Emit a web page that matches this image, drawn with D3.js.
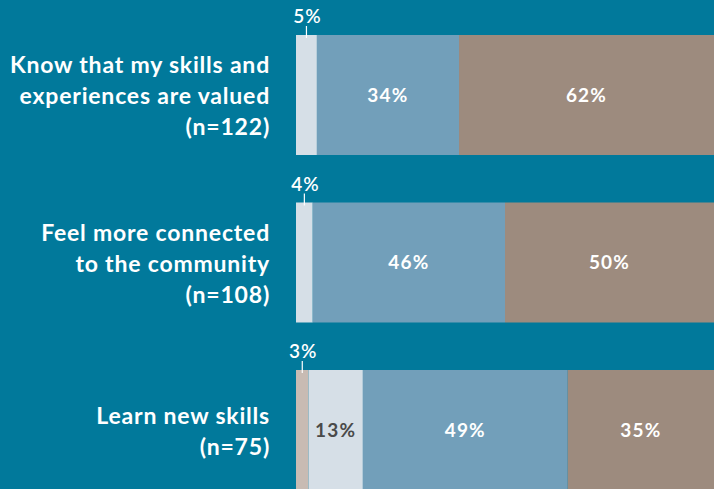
<!DOCTYPE html>
<html>
<head>
<meta charset="utf-8">
<script src="https://cdn.jsdelivr.net/npm/d3@7"></script>
<style>
  html, body { margin: 0; padding: 0; background: #01799b; overflow: hidden; }
  svg { display: block; }
</style>
</head>
<body>
<div id="chart"></div>
<script>
// chart data
const categories = [
    ['Know that my skills and', 'experiences are valued', '(n=122)'],
    ['Feel more connected', 'to the community', '(n=108)'],
    ['Learn new skills', '(n=75)']
];
const seriesKeys = ['none', 'little', 'some', 'lot'];
const noneValues = [0, 0, 3];
const littleValues = [5, 4, 13];
const someValues = [34, 46, 49];
const lotValues = [62, 50, 35];

const width = 714;
const height = 489;
const colors = { none: '#c8bbb3', little: '#d6dfe7', some: '#729fba', lot: '#9d8b7e' };

// build rows for d3.stack
const rows = categories.map((c, i) => ({
    idx: i,
    none: noneValues[i],
    little: littleValues[i],
    some: someValues[i],
    lot: lotValues[i]
}));

const svg = d3.select('#chart')
    .append('svg')
    .attr('width', width)
    .attr('height', height);

svg.append('rect')
    .attr('width', width)
    .attr('height', height)
    .attr('fill', '#01799b');

const x = d3.scaleLinear().domain([0, 100]).range([296, 714]);
const y = d3.scaleBand()
    .domain(rows.map(d => d.idx))
    .range([35, 490])
    .paddingInner(0.2836)
    .paddingOuter(0);

const stacked = d3.stack().keys(seriesKeys)(rows);

// segments
const layers = svg.selectAll('g.layer')
    .data(stacked)
    .enter()
    .append('g')
    .attr('class', 'layer')
    .attr('fill', d => colors[d.key]);

layers.selectAll('rect')
    .data(d => d.filter(s => s[1] - s[0] > 0))
    .enter()
    .append('rect')
    .attr('x', d => x(d[0]))
    .attr('y', d => y(d.data.idx))
    .attr('width', d => x(d[1]) - x(d[0]))
    .attr('height', y.bandwidth());

// value labels
stacked.forEach(layer => {
    layer.forEach(s => {
        const v = s[1] - s[0];
        if (v <= 0) return;
        const cx = (x(s[0]) + x(s[1])) / 2;
        const top = y(s.data.idx);
        if (v < 6) {
            // small segment: label above with a tick
            svg.append('line')
                .attr('x1', cx).attr('x2', cx)
                .attr('y1', top - 9).attr('y2', top + 3)
                .attr('stroke', '#ffffff')
                .attr('stroke-width', 1.2);
            svg.append('text')
                .attr('x', cx + 1)
                .attr('y', top - 12)
                .attr('text-anchor', 'middle')
                .attr('fill', '#ffffff')
                .attr('font-family', 'Lato, sans-serif')
                .attr('font-size', '19px')
                .attr('font-weight', 600)
                .attr('letter-spacing', '1px')
                .text(v + '%');
        } else {
            svg.append('text')
                .attr('x', Math.min(cx, (x(s[0]) + width) / 2))
                .attr('y', top + y.bandwidth() / 2)
                .attr('dy', '0.35em')
                .attr('text-anchor', 'middle')
                .attr('fill', layer.key === 'little' ? '#4a4a4a' : '#ffffff')
                .attr('font-family', 'Lato, sans-serif')
                .attr('font-size', '19px')
                .attr('font-weight', 'bold')
                .attr('letter-spacing', '1.2px')
                .text(v + '%');
        }
    });
});

// category labels
const lineH = 31;
categories.forEach((lines, i) => {
    const cy = y(i) + y.bandwidth() / 2;
    const t = svg.append('text')
        .attr('text-anchor', 'end')
        .attr('fill', '#ffffff')
        .attr('font-family', 'Lato, sans-serif')
        .attr('font-size', '23px')
        .attr('font-weight', 'bold')
        .attr('letter-spacing', '0.8px');
    lines.forEach((ln, j) => {
        t.append('tspan')
            .attr('x', 270)
            .attr('y', cy + (j - (lines.length - 1) / 2) * lineH + 9)
            .text(ln);
    });
});
</script>
</body>
</html>
